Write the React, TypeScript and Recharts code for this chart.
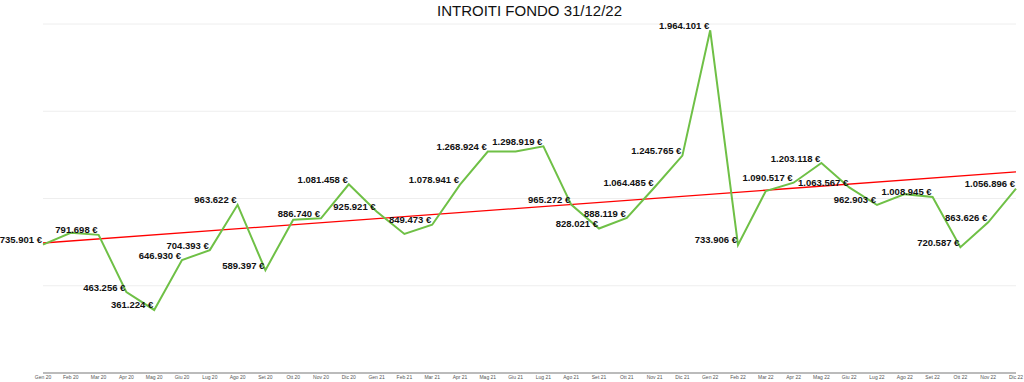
import { LineChart, Line, XAxis, YAxis, CartesianGrid, LabelList, ReferenceLine } from 'recharts';

const months = [
  'Gen 20', 'Feb 20', 'Mar 20', 'Apr 20', 'Mag 20', 'Giu 20', 'Lug 20', 'Ago 20', 'Set 20', 'Ott 20', 'Nov 20', 'Dic 20',
  'Gen 21', 'Feb 21', 'Mar 21', 'Apr 21', 'Mag 21', 'Giu 21', 'Lug 21', 'Ago 21', 'Set 21', 'Ott 21', 'Nov 21', 'Dic 21',
  'Gen 22', 'Feb 22', 'Mar 22', 'Apr 22', 'Mag 22', 'Giu 22', 'Lug 22', 'Ago 22', 'Set 22', 'Ott 22', 'Nov 22', 'Dic 22',
];

const introiti = [
  735901, 803000, 791698, 463256, 361224, 646930, 704393, 963622, 589397, 878000, 886740, 1081458,
  925921, 797000, 849473, 1078941, 1268924, 1270000, 1298919, 965272, 828021, 888119, 1064485, 1245765,
  1964101, 733906, 1043000, 1090517, 1203118, 1063567, 962903, 1025000, 1008945, 720587, 863626, 1056896,
];

// mesi senza etichetta nel grafico originale
const senzaEtichetta = ['Feb 20', 'Ott 20', 'Feb 21', 'Giu 21', 'Mar 22', 'Ago 22'];

// linea di tendenza: valori letti agli estremi
const trendStart = 745000;
const trendEnd = 1152000;

const yTicks = [0, 500000, 1000000, 1500000, 2000000];

const data = months.map((m, i) => ({ mese: m, valore: introiti[i] }));

const FONT = '"Liberation Sans", Arial, Helvetica, sans-serif';

function euro(v: number) {
  return String(v).replace(/\B(?=(\d{3})+(?!\d))/g, '.') + ' €';
}

function ValueLabel(props: any) {
  const { x, y, value, index } = props;
  if (senzaEtichetta.includes(months[index])) return null;
  return (
    <text x={x - 1} y={y - 1.5} textAnchor="end" fontSize={9.5} fontWeight="bold" fill="#111" fontFamily={FONT}>
      {euro(value)}
    </text>
  );
}

export default function App() {
  return (
    <div style={{ position: 'absolute', left: 0, top: 0, width: 1024, height: 382, background: '#fff', fontFamily: FONT }}>
      <div
        style={{
          position: 'absolute',
          left: 43,
          width: 973,
          top: 1,
          textAlign: 'center',
          fontSize: 15,
          lineHeight: '20px',
          color: '#111',
        }}
      >
        INTROITI FONDO 31/12/22
      </div>
      <LineChart width={1024} height={382} data={data} margin={{ top: 24, right: 8, left: 43, bottom: 0 }}>
        <CartesianGrid vertical={false} stroke="#eeeeee" strokeWidth={1} />
        <XAxis
          dataKey="mese"
          height={9}
          interval={0}
          tickLine={false}
          tickSize={0}
          tickMargin={2}
          axisLine={{ stroke: '#bbbbbb', strokeWidth: 2 }}
          tick={{ fontSize: 5, fill: '#555', fontFamily: FONT }}
        />
        <YAxis hide domain={[0, 2000000]} ticks={yTicks} />
        <ReferenceLine
          segment={[
            { x: months[0], y: trendStart },
            { x: months[months.length - 1], y: trendEnd },
          ]}
          stroke="#ff0000"
          strokeWidth={1.3}
          ifOverflow="visible"
        />
        <Line
          type="linear"
          dataKey="valore"
          stroke="#6fc046"
          strokeWidth={2}
          dot={false}
          activeDot={false}
          isAnimationActive={false}
        >
          <LabelList dataKey="valore" content={ValueLabel} />
        </Line>
      </LineChart>
    </div>
  );
}
